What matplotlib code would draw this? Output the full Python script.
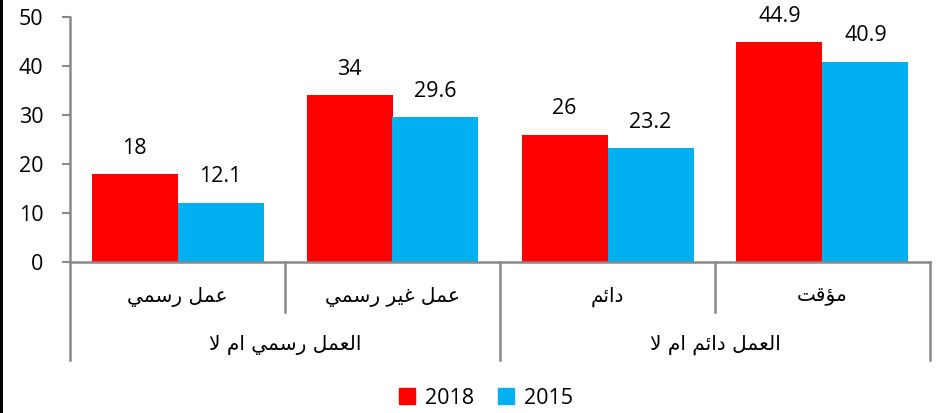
import matplotlib
matplotlib.use("Agg")
import matplotlib.pyplot as plt
from matplotlib.lines import Line2D
from matplotlib.patches import Rectangle, Patch
import matplotlib.transforms as mtransforms

# ---- data ----
categories = ["عمل رسمي", "عمل غير رسمي", "دائم", "مؤقت"]
groups = ["العمل رسمي ام لا", "العمل دائم ام لا"]
series_names = ["2018", "2015"]
values_2018 = [18, 34, 26, 44.9]
values_2015 = [12.1, 29.6, 23.2, 40.9]
label_2018 = ["18", "34", "26", "44.9"]
label_2015 = ["12.1", "29.6", "23.2", "40.9"]
yticks = [0, 10, 20, 30, 40, 50]

# ---- minimal Arabic shaping for display ----
FORMS = {
    '\u0627': ('\uFE8D', '\uFE8E', None, None),
    '\u062A': ('\uFE95', '\uFE96', '\uFE97', '\uFE98'),
    '\u062F': ('\uFEA9', '\uFEAA', None, None),
    '\u0631': ('\uFEAD', '\uFEAE', None, None),
    '\u0633': ('\uFEB1', '\uFEB2', '\uFEB3', '\uFEB4'),
    '\u0639': ('\uFEC9', '\uFECA', '\uFECB', '\uFECC'),
    '\u063A': ('\uFECD', '\uFECE', '\uFECF', '\uFED0'),
    '\u0642': ('\uFED5', '\uFED6', '\uFED7', '\uFED8'),
    '\u0644': ('\uFEDD', '\uFEDE', '\uFEDF', '\uFEE0'),
    '\u0645': ('\uFEE1', '\uFEE2', '\uFEE3', '\uFEE4'),
    '\u064A': ('\uFEF1', '\uFEF2', '\uFEF3', '\uFEF4'),
    '\u0626': ('\uFE89', '\uFE8A', '\uFE8B', '\uFE8C'),
    '\u0624': ('\uFE85', '\uFE86', None, None),
    '\u0648': ('\uFEED', '\uFEEE', None, None),
}


def dual(c):
    return c in FORMS and FORMS[c][2] is not None


def shape(text):
    chars = []
    i = 0
    while i < len(text):
        if text[i] == '\u0644' and i + 1 < len(text) and text[i + 1] == '\u0627':
            chars.append('LA')
            i += 2
        else:
            chars.append(text[i])
            i += 1
    out = []
    for k, c in enumerate(chars):
        prev = chars[k - 1] if k > 0 else None
        nxt = chars[k + 1] if k + 1 < len(chars) else None
        jp = prev is not None and dual(prev)
        if c == 'LA':
            out.append('\uFEFC' if jp else '\uFEFB')
            continue
        if c not in FORMS:
            out.append(c)
            continue
        jn = dual(c) and nxt is not None and (nxt in FORMS or nxt == 'LA')
        iso, fin, ini, med = FORMS[c]
        if jp and jn:
            out.append(med)
        elif jp:
            out.append(fin)
        elif jn:
            out.append(ini)
        else:
            out.append(iso)
    return ''.join(out)[::-1]


RED = "#FF0000"
CYAN = "#00B0F0"
GRAY = "#898989"
NUMFONT = ["Open Sans", "DejaVu Sans"]
FS = 15.5

fig = plt.figure(figsize=(9.36, 4.13), dpi=100)
ax = fig.add_axes([70 / 936, 1 - 262 / 413, 860 / 936, 245 / 413])

x = list(range(len(categories)))
w = 0.4
ax.bar([i - w / 2 for i in x], values_2018, width=w, color=RED, label=series_names[0])
ax.bar([i + w / 2 for i in x], values_2015, width=w, color=CYAN, label=series_names[1])

for i in x:
    ax.annotate(label_2018[i], (i - w / 2, values_2018[i]), xytext=(0, 11),
                textcoords="offset points", ha="center", va="bottom",
                fontsize=FS, family=NUMFONT)
    ax.annotate(label_2015[i], (i + w / 2, values_2015[i]), xytext=(0, 11),
                textcoords="offset points", ha="center", va="bottom",
                fontsize=FS, family=NUMFONT)

ax.set_xlim(-0.5, 3.5)
ax.set_ylim(0, 50)
ax.set_yticks(yticks)
ax.set_yticklabels([str(t) for t in yticks], fontsize=FS, family=NUMFONT)
ax.tick_params(axis="y", direction="out", length=6, width=1.5, color=GRAY, pad=13)
ax.set_xticks([])
for s in ["top", "right"]:
    ax.spines[s].set_visible(False)
for s in ["left", "bottom"]:
    ax.spines[s].set_color(GRAY)
    ax.spines[s].set_linewidth(1.8)

trans = mtransforms.blended_transform_factory(ax.transData, ax.transAxes)
inner = -50 / 245
outer = -98 / 245
for xv, y0 in [(-0.5, outer), (0.5, inner), (1.5, outer), (2.5, inner), (3.5, outer)]:
    ax.add_line(Line2D([xv, xv], [0, y0], transform=trans, color=GRAY, lw=1.8,
                       clip_on=False))

for i, c in enumerate(categories):
    ax.text(i, -35 / 245, shape(c), transform=trans, ha="center", va="center",
            fontsize=14.5, family="DejaVu Sans")
for g, name in enumerate(groups):
    ax.text(0.5 + 2 * g, -83 / 245, shape(name), transform=trans, ha="center",
            va="center", fontsize=14.5, family="DejaVu Sans")

fig.add_artist(Rectangle((0, 0), 3 / 936, 1, transform=fig.transFigure,
                         color="black", lw=0))

handles = [Patch(color=RED), Patch(color=CYAN)]
fig.legend(handles, series_names, loc="center", bbox_to_anchor=(486 / 936, 1 - 398 / 413),
           ncol=2, frameon=False, prop={"family": NUMFONT, "size": FS},
           handlelength=0.75, handleheight=0.75, handletextpad=0.45, columnspacing=1.1)

fig.savefig("out.png", dpi=100)
